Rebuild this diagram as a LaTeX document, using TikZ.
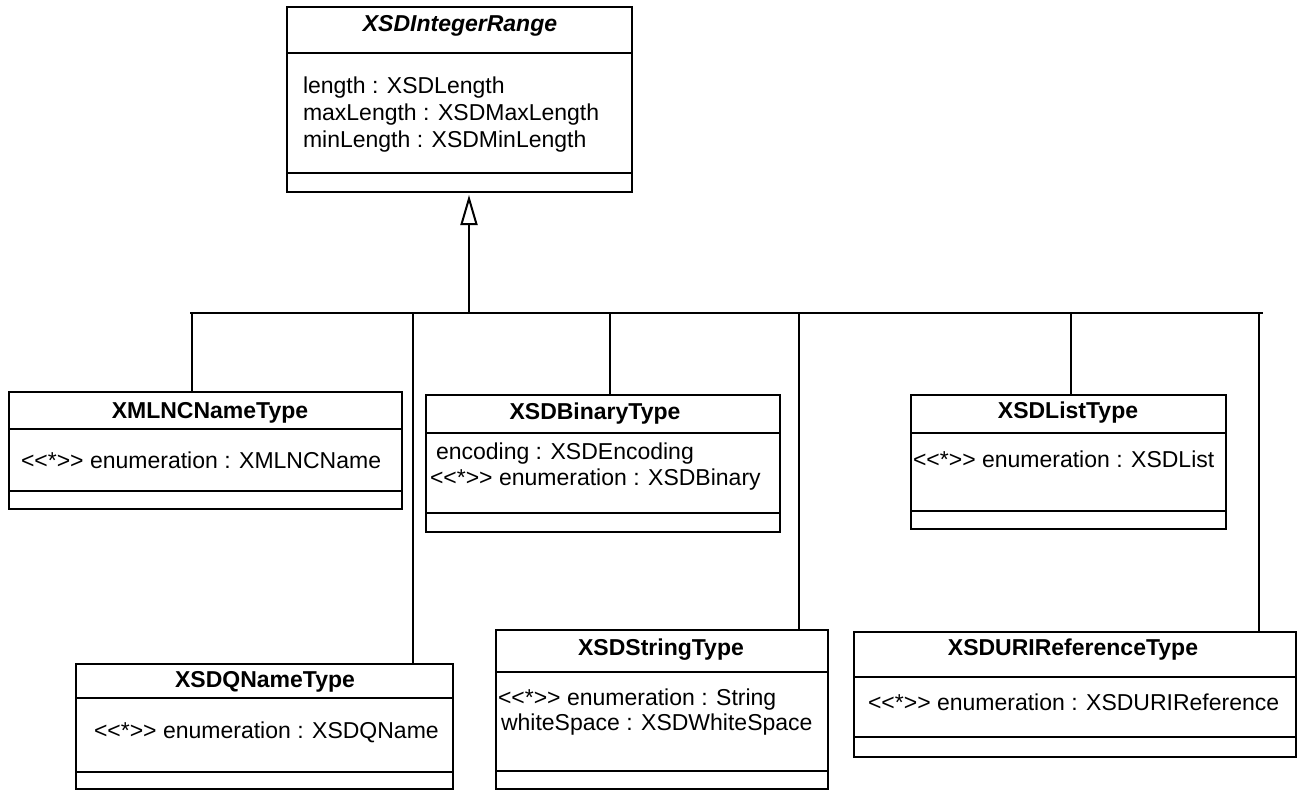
\documentclass[tikz,border=0pt]{standalone}
\usepackage{fontspec}
\setmainfont{Liberation Sans}[Ligatures=TeXOff]
\usetikzlibrary{arrows.meta}
\begin{document}
\begin{tikzpicture}[x=1pt,y=-1pt,line width=2pt,
  cls/.style={draw, line width=2pt, inner sep=0pt, outer sep=0pt, anchor=north west, fill=white},
  ttl/.style={anchor=base, inner sep=0pt, font=\fontsize{23}{27}\selectfont\bfseries},
  attr/.style={anchor=base west, inner sep=0pt, font=\fontsize{23}{27}\selectfont},
  conn/.style={line width=2pt}]
\useasboundingbox (0,0) rectangle (1304,792);

% boxes
\node[cls, minimum width=345pt, minimum height=185pt] (top) at (287,7) {};
\draw ([yshift=-46pt]top.north west) -- ([yshift=-46pt]top.north east);
\draw ([yshift=-166pt]top.north west) -- ([yshift=-166pt]top.north east);
\node[ttl, font=\fontsize{23}{27}\selectfont\bfseries\itshape] (topT) at (460,32) {XSDIntegerRange};
\node[attr] (topA1) at (302,93) {length : XSDLength};
\node[attr] (topA2) at (302,120) {maxLength : XSDMaxLength};
\node[attr] (topA3) at (302,147) {minLength : XSDMinLength};

\node[cls, minimum width=393pt, minimum height=117pt] (xml) at (9,392) {};
\draw ([yshift=-37pt]xml.north west) -- ([yshift=-37pt]xml.north east);
\draw ([yshift=-99pt]xml.north west) -- ([yshift=-99pt]xml.north east);
\node[ttl] (xmlT) at (210,418) {XMLNCNameType};
\node[attr] (xmlA) at (20,468) {<<*>> enumeration : XMLNCName};

\node[cls, minimum width=354pt, minimum height=137pt] (bin) at (426,395) {};
\draw ([yshift=-38pt]bin.north west) -- ([yshift=-38pt]bin.north east);
\draw ([yshift=-118pt]bin.north west) -- ([yshift=-118pt]bin.north east);
\node[ttl] (binT) at (595,419) {XSDBinaryType};
\node[attr] (binA1) at (435,459) {encoding : XSDEncoding};
\node[attr] (binA2) at (429,485) {<<*>> enumeration : XSDBinary};

\node[cls, minimum width=315pt, minimum height=134pt] (lst) at (911,395) {};
\draw ([yshift=-38pt]lst.north west) -- ([yshift=-38pt]lst.north east);
\draw ([yshift=-116pt]lst.north west) -- ([yshift=-116pt]lst.north east);
\node[ttl] (lstT) at (1068,418) {XSDListType};
\node[attr] (lstA) at (912,467) {<<*>> enumeration : XSDList};

\node[cls, minimum width=377pt, minimum height=125pt] (qn) at (76,664) {};
\draw ([yshift=-34pt]qn.north west) -- ([yshift=-34pt]qn.north east);
\draw ([yshift=-108pt]qn.north west) -- ([yshift=-108pt]qn.north east);
\node[ttl] (qnT) at (265,687) {XSDQNameType};
\node[attr] (qnA) at (93,738) {<<*>> enumeration : XSDQName};

\node[cls, minimum width=332pt, minimum height=159pt] (str) at (496,630) {};
\draw ([yshift=-42pt]str.north west) -- ([yshift=-42pt]str.north east);
\draw ([yshift=-141pt]str.north west) -- ([yshift=-141pt]str.north east);
\node[ttl] (strT) at (661,655) {XSDStringType};
\node[attr] (strA1) at (497,705) {<<*>> enumeration : String};
\node[attr] (strA2) at (500,730) {whiteSpace : XSDWhiteSpace};

\node[cls, minimum width=442pt, minimum height=125pt] (uri) at (854,632) {};
\draw ([yshift=-45pt]uri.north west) -- ([yshift=-45pt]uri.north east);
\draw ([yshift=-105pt]uri.north west) -- ([yshift=-105pt]uri.north east);
\node[ttl] (uriT) at (1073,655) {XSDURIReferenceType};
\node[attr] (uriA) at (867,710) {<<*>> enumeration : XSDURIReference};

% connectors
\coordinate (bL) at (190,313);
\coordinate (bR) at (1263,313);
\coordinate (jTop) at (469,313);
\coordinate (jXml) at (192,313);
\coordinate (jQn) at (413,313);
\coordinate (jBin) at (610,313);
\coordinate (jStr) at (799,313);
\coordinate (jLst) at (1071,313);
\coordinate (jUri) at (1259,313);
\draw[conn] (bL) -- (bR);
\draw[conn, -{Triangle[open, length=30pt, width=17pt, line width=2pt]}, shorten >=3pt] (jTop) -- (jTop |- top.south);
\draw[conn] (jXml) -- (jXml |- xml.north);
\draw[conn] (jQn) -- (jQn |- qn.north);
\draw[conn] (jBin) -- (jBin |- bin.north);
\draw[conn] (jStr) -- (jStr |- str.north);
\draw[conn] (jLst) -- (jLst |- lst.north);
\draw[conn] (jUri) -- (jUri |- uri.north);
\end{tikzpicture}
\end{document}
